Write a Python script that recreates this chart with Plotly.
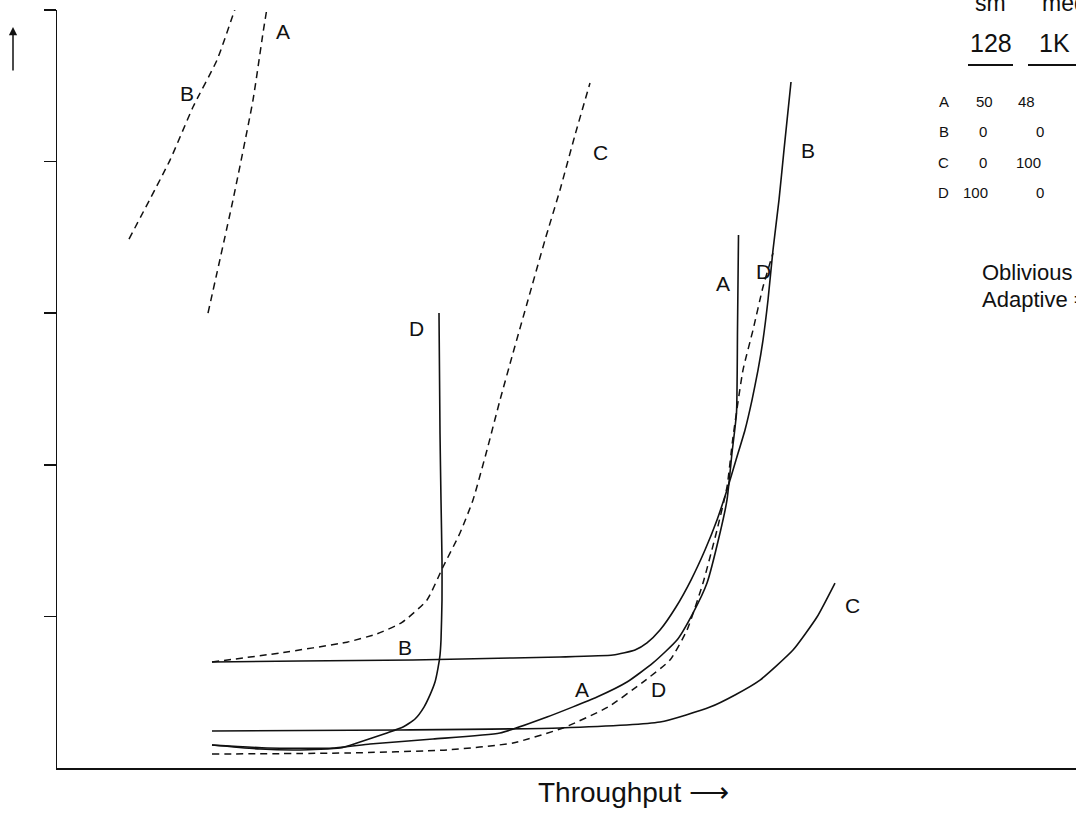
import plotly.graph_objects as go

# ---- data (x: throughput, y: latency; arbitrary units) ----
solid_B_x = [1.55, 2.43, 3.56, 4.56, 5.03, 5.56, 5.78, 5.90, 6.03, 6.19, 6.34, 6.48, 6.60, 6.70, 6.79, 6.88, 6.95, 7.01, 7.06, 7.11, 7.16, 7.22, 7.27, 7.34]
solid_B_y = [0.699, 0.706, 0.712, 0.726, 0.732, 0.745, 0.778, 0.825, 0.910, 1.062, 1.240, 1.438, 1.636, 1.834, 2.032, 2.230, 2.427, 2.625, 2.823, 3.087, 3.417, 3.747, 4.077, 4.525]

solid_A_x = [1.55, 2.10, 2.76, 3.13, 3.76, 4.43, 4.90, 5.40, 5.70, 5.96, 6.20, 6.36, 6.50, 6.63, 6.70, 6.75, 6.795, 6.805, 6.815]
solid_A_y = [0.152, 0.132, 0.132, 0.158, 0.191, 0.231, 0.336, 0.468, 0.567, 0.693, 0.844, 1.022, 1.220, 1.550, 1.768, 2.078, 2.342, 2.890, 3.516]

solid_D_x = [1.55, 2.03, 2.43, 2.83, 3.00, 3.30, 3.46, 3.58, 3.67, 3.73, 3.78, 3.81, 3.83, 3.84, 3.85, 3.85, 3.84, 3.83, 3.82]
solid_D_y = [0.152, 0.125, 0.119, 0.132, 0.165, 0.231, 0.270, 0.323, 0.402, 0.482, 0.567, 0.659, 0.745, 0.844, 1.108, 1.372, 1.768, 2.210, 3.001]

solid_C_x = [1.55, 3.43, 5.03, 6.03, 6.53, 6.78, 7.03, 7.36, 7.60, 7.78]
solid_C_y = [0.244, 0.251, 0.264, 0.303, 0.402, 0.482, 0.580, 0.778, 0.996, 1.220]

dash_D_x = [1.55, 2.90, 3.90, 4.56, 5.06, 5.51, 5.86, 6.13, 6.30, 6.46, 6.60, 6.70, 6.76, 6.86, 6.96, 7.06, 7.16]
dash_D_y = [0.092, 0.099, 0.119, 0.165, 0.264, 0.402, 0.567, 0.712, 0.910, 1.220, 1.570, 1.854, 2.183, 2.625, 2.889, 3.173, 3.397]

dash_C_x = [1.55, 2.23, 2.90, 3.20, 3.45, 3.70, 3.86, 4.03, 4.16, 4.30, 4.43, 4.56, 4.71, 4.88, 5.03, 5.18, 5.33]
dash_C_y = [0.699, 0.759, 0.830, 0.885, 0.960, 1.108, 1.326, 1.550, 1.768, 2.098, 2.427, 2.737, 3.087, 3.483, 3.813, 4.175, 4.518]

dash_B_x = [0.72, 1.13, 1.36, 1.60, 1.78]
dash_B_y = [3.489, 4.010, 4.360, 4.670, 5.007]

dash_A_x = [1.51, 1.76, 1.96, 2.06, 2.10]
dash_A_y = [3.001, 3.747, 4.406, 4.848, 5.013]

# curve labels
label_text = ["A", "B", "C", "B", "D", "A", "D", "B", "A", "D", "C"]
label_x = [2.26, 1.30, 5.43, 7.51, 3.59, 6.66, 7.06, 3.48, 5.25, 6.01, 7.95]
label_y = [4.855, 4.446, 4.063, 4.070, 2.902, 3.199, 3.272, 0.798, 0.515, 0.515, 1.075]

y_ticks = [1, 2, 3, 4, 5]

# table (right side, partly cut off)
col_names = ["sm", "med"]
col_sizes = ["128", "1K"]
row_names = ["A", "B", "C", "D"]
sm_vals = [50, 0, 0, 100]
med_vals = [48, 0, 100, 0]
key_lines = ["Oblivious = \u2014\u2014\u2014", "Adaptive = - - - -"]

FONT = "Liberation Sans, Arial, Helvetica, sans-serif"
INK = "#111111"

fig = go.Figure()

def add_line(x, y, dashed):
    fig.add_trace(go.Scatter(
        x=x, y=y, mode="lines",
        line=dict(color=INK, width=1.6 if not dashed else 1.5,
                  dash="7px,5px" if dashed else "solid", shape="spline", smoothing=0.5),
        hoverinfo="skip", showlegend=False))

add_line(solid_B_x, solid_B_y, False)
add_line(solid_A_x, solid_A_y, False)
add_line(solid_D_x, solid_D_y, False)
add_line(solid_C_x, solid_C_y, False)
add_line(dash_D_x, dash_D_y, True)
add_line(dash_C_x, dash_C_y, True)
add_line(dash_B_x, dash_B_y, True)
add_line(dash_A_x, dash_A_y, True)

annotations = []
for t, x, y in zip(label_text, label_x, label_y):
    annotations.append(dict(x=x, y=y, xref="x", yref="y", text=t, showarrow=False,
                            font=dict(family=FONT, size=21, color=INK)))

# geometry helpers for paper coordinates
W, H = 1076, 824
ML, MR, MT, MB = 57, 0, 10, 56
PW, PH = W - ML - MR, H - MT - MB

def px(xp):
    return (xp - ML) / PW

def py(yp):
    return (H - MB - yp) / PH

# column headers
annotations.append(dict(x=px(990), y=py(3), xref="paper", yref="paper", text=col_names[0],
                        showarrow=False, xanchor="center", yanchor="middle",
                        font=dict(family=FONT, size=23, color=INK)))
annotations.append(dict(x=px(1040), y=py(3), xref="paper", yref="paper", text=col_names[1],
                        showarrow=False, xanchor="left", yanchor="middle",
                        font=dict(family=FONT, size=23, color=INK)))
annotations.append(dict(x=px(991), y=py(43), xref="paper", yref="paper", text=col_sizes[0],
                        showarrow=False, xanchor="center", yanchor="middle",
                        font=dict(family=FONT, size=25, color=INK)))
annotations.append(dict(x=px(1054), y=py(43), xref="paper", yref="paper", text=col_sizes[1],
                        showarrow=False, xanchor="center", yanchor="middle",
                        font=dict(family=FONT, size=25, color=INK)))

row_py = [91, 121, 152, 182]
sm_px = [995, 989, 989, 990]
med_px = [1037, 1046, 1043, 1046]
for i, r in enumerate(row_names):
    annotations.append(dict(x=px(951), y=py(row_py[i]), xref="paper", yref="paper", text=r,
                            showarrow=False, font=dict(family=FONT, size=15, color=INK)))
    annotations.append(dict(x=px(sm_px[i]), y=py(row_py[i]), xref="paper", yref="paper",
                            text=str(sm_vals[i]), showarrow=False,
                            font=dict(family=FONT, size=15, color=INK)))
    annotations.append(dict(x=px(med_px[i]), y=py(row_py[i]), xref="paper", yref="paper",
                            text=str(med_vals[i]), showarrow=False,
                            font=dict(family=FONT, size=15, color=INK)))

annotations.append(dict(x=px(980), y=py(272), xref="paper", yref="paper", text=key_lines[0],
                        showarrow=False, xanchor="left", yanchor="middle",
                        font=dict(family=FONT, size=22, color=INK)))
annotations.append(dict(x=px(980), y=py(300), xref="paper", yref="paper", text=key_lines[1],
                        showarrow=False, xanchor="left", yanchor="middle",
                        font=dict(family=FONT, size=22, color=INK)))

# x-axis title with arrow
annotations.append(dict(x=px(633), y=py(792), xref="paper", yref="paper",
                        text="Throughput \u27f6", showarrow=False,
                        xanchor="center", yanchor="middle",
                        font=dict(family=FONT, size=28, color=INK)))

# y-direction arrow
annotations.append(dict(x=px(13), y=py(27), xref="paper", yref="paper", text="",
                        showarrow=True, ax=0, ay=45, axref="pixel", ayref="pixel",
                        arrowhead=2, arrowsize=1.1, arrowwidth=1.5, arrowcolor=INK))

shapes = [
    dict(type="line", xref="paper", yref="paper", x0=px(968), x1=px(1013), y0=py(65), y1=py(65),
         line=dict(color=INK, width=2)),
    dict(type="line", xref="paper", yref="paper", x0=px(1028), x1=px(1076), y0=py(65), y1=py(65),
         line=dict(color=INK, width=2)),
]

fig.update_layout(
    width=W, height=H,
    margin=dict(l=ML, r=MR, t=MT, b=MB, pad=0),
    paper_bgcolor="white", plot_bgcolor="white",
    showlegend=False,
    annotations=annotations,
    shapes=shapes,
    xaxis=dict(range=[0, PW / 100], showgrid=False, zeroline=False, showticklabels=False,
               ticks="", showline=True, linecolor=INK, linewidth=2, fixedrange=True),
    yaxis=dict(range=[0, 5], showgrid=False, zeroline=False, showticklabels=False,
               tickmode="array", tickvals=y_ticks, ticks="outside", ticklen=12,
               tickwidth=1.5, tickcolor=INK,
               showline=True, linecolor=INK, linewidth=1.5, fixedrange=True),
    hovermode=False,
)

fig.write_html(
    "out.html",
    config={"displayModeBar": False, "staticPlot": True},
    post_script="document.body.style.margin='0';document.body.style.overflow='hidden';",
)
